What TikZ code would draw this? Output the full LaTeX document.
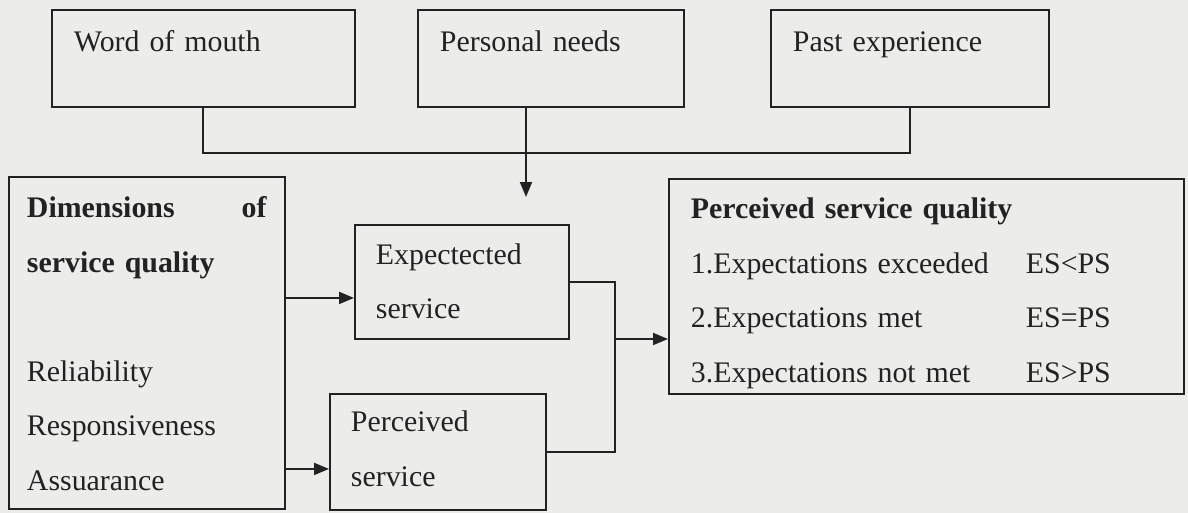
\documentclass[tikz,border=0pt]{standalone}
\usepackage{fontspec}
\setmainfont{Liberation Serif}
\usepackage{xcolor}
\usetikzlibrary{positioning,arrows.meta}
\definecolor{paper}{RGB}{236,236,234}
\definecolor{ink}{RGB}{34,34,34}

\begin{document}
\begin{tikzpicture}[x=0.02cm,y=-0.02cm,line width=1.1pt,color=ink,
    font=\fontsize{17}{31}\selectfont,
    box/.style={draw=ink,anchor=north west,align=left,inner ysep=0pt,inner xsep=0.44cm},
    arr/.style={-{Triangle[length=0.3cm,width=0.24cm]}}]
    \fill[paper] (0,0) rectangle (1188,513);
    \node[box,text width=5.18cm,text height=0.84cm,text depth=1.1cm] (wom) at (51,9) {Word of mouth};
    \node[box,text width=4.44cm,text height=0.84cm,text depth=1.1cm] (needs) at (417,9) {Personal needs};
    \node[box,text width=4.68cm,text height=0.84cm,text depth=1.1cm] (past) at (770,9) {Past experience};
    \node[box,inner xsep=0.36cm,text width=4.8cm,text height=0.82cm,text depth=5.82cm] (dim) at (8,176)
        {\textbf{Dimensions\hfill of}\\\textbf{service quality}\\[31pt]Reliability\\Responsiveness\\Assuarance};
    \node[box,inner xsep=0.42cm,text width=3.44cm,text height=0.79cm,text depth=1.49cm] (exp) at (354,224) {Expectected\\service};
    \node[box,inner xsep=0.42cm,text width=3.48cm,text height=0.76cm,text depth=1.56cm] (perc) at (329,393) {Perceived\\service};
    \node[box,text width=9.42cm,text height=0.8cm,text depth=3.5cm] (psq) at (668,178)
        {\textbf{Perceived service quality}\\
         \makebox[6.7cm][l]{1.Expectations exceeded}ES<PS\\
         \makebox[6.7cm][l]{2.Expectations met}ES=PS\\
         \makebox[6.7cm][l]{3.Expectations not met}ES>PS};
    \coordinate (join) at (0,153);
    \coordinate (drop) at (526,197);
    \coordinate (merge) at (615,339);
    \coordinate (in1) at ([yshift=-0.32cm]exp.west);
    \coordinate (in2) at ([yshift=-0.34cm]perc.west);
    \draw (wom.south) |- (join -| past.south) -- (past.south);
    \draw[arr] (drop |- needs.south) -- (drop);
    \draw[arr] (in1 -| dim.east) -- (in1);
    \draw[arr] (in2 -| dim.east) -- (in2);
    \draw (exp.east) -| (merge) |- (perc.east);
    \draw[arr] (merge) -- (merge -| psq.west);
\end{tikzpicture}
\end{document}
